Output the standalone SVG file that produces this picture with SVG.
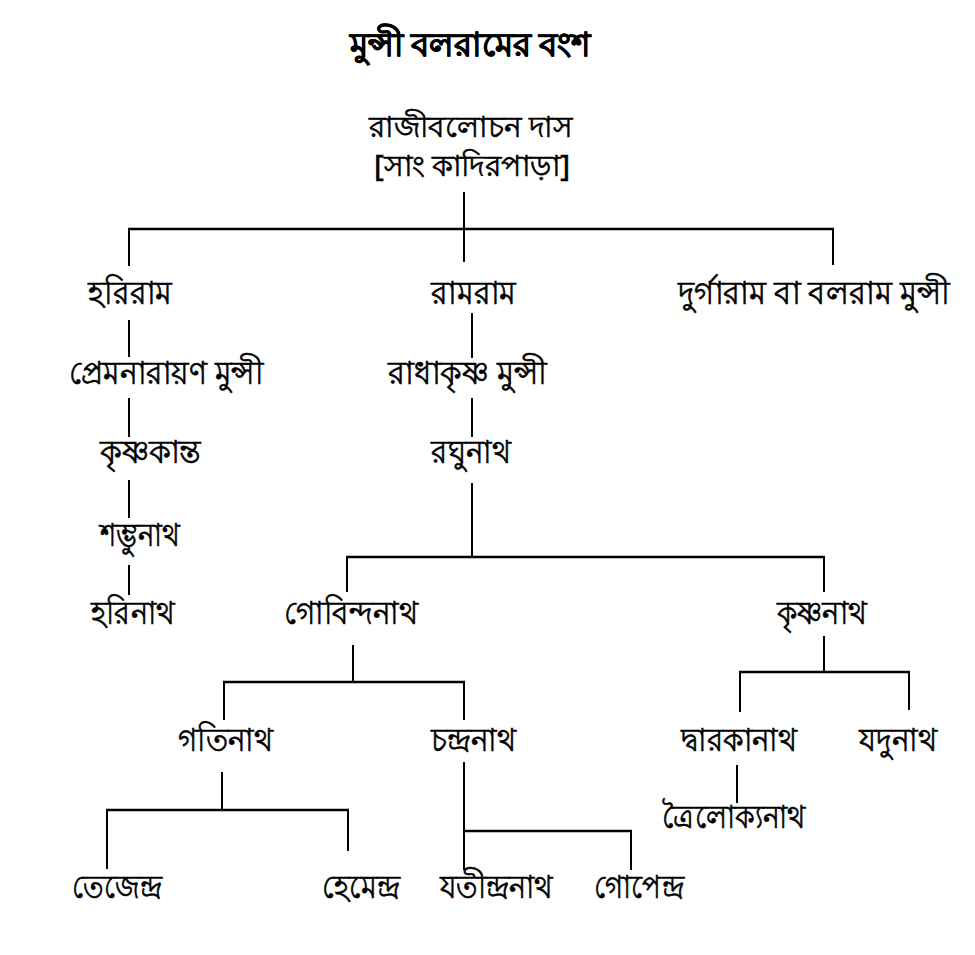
<svg xmlns="http://www.w3.org/2000/svg" width="975" height="955" viewBox="0 0 975 955">
<style>
text{font-family:"Noto Sans","DejaVu Sans",sans-serif;font-size:32px;fill:#000;stroke:#000;stroke-width:0.6px;}
.t{font-weight:bold;font-size:33px;stroke-width:0.4px;}
.r{font-size:29px;}
.c line{stroke:#000;stroke-width:2;}
.c line.h{stroke-width:2.6;}
</style>
<rect width="975" height="955" fill="#fff"/>
<text class="t" x="350" y="56" textLength="241" lengthAdjust="spacingAndGlyphs">মুন্সী বলরামের বংশ</text>
<g class="c">
<line x1="464" y1="192" x2="464" y2="262"/>
<line class="h" x1="128" y1="229" x2="834" y2="229"/>
<line x1="129" y1="228" x2="129" y2="266"/>
<line x1="833" y1="228" x2="833" y2="265"/>
<line x1="129" y1="320" x2="129" y2="357"/>
<line x1="129" y1="398" x2="129" y2="437"/>
<line x1="129" y1="480" x2="129" y2="518"/>
<line x1="129" y1="565" x2="129" y2="595"/>
<line x1="472" y1="313" x2="472" y2="358"/>
<line x1="472" y1="398" x2="472" y2="437"/>
<line x1="472" y1="483" x2="472" y2="557"/>
<line class="h" x1="346" y1="557" x2="825" y2="557"/>
<line x1="347" y1="556" x2="347" y2="592"/>
<line x1="824" y1="556" x2="824" y2="592"/>
<line x1="353" y1="645" x2="353" y2="682"/>
<line class="h" x1="223" y1="682" x2="465" y2="682"/>
<line x1="224" y1="681" x2="224" y2="720"/>
<line x1="464" y1="681" x2="464" y2="720"/>
<line x1="824" y1="636" x2="824" y2="672"/>
<line class="h" x1="739" y1="672" x2="910" y2="672"/>
<line x1="740" y1="671" x2="740" y2="712"/>
<line x1="909" y1="671" x2="909" y2="710"/>
<line x1="222" y1="772" x2="222" y2="810"/>
<line class="h" x1="106" y1="810" x2="349" y2="810"/>
<line x1="107" y1="809" x2="107" y2="869"/>
<line x1="348" y1="809" x2="348" y2="851"/>
<line x1="464" y1="762" x2="464" y2="870"/>
<line class="h" x1="464" y1="831" x2="632" y2="831"/>
<line x1="631" y1="830" x2="631" y2="870"/>
<line x1="737" y1="765" x2="737" y2="803"/>
</g>
<g id="n-rajib"><text class="r" x="369" y="137" textLength="203" lengthAdjust="spacingAndGlyphs">রাজীবলোচন দাস</text><text class="r" x="374" y="176" textLength="196" lengthAdjust="spacingAndGlyphs">[সাং কাদিরপাড়া]</text></g>
<g id="n-hariram"><text x="88" y="304" textLength="84" lengthAdjust="spacingAndGlyphs">হরিরাম</text></g>
<g id="n-ramram"><text x="431" y="304" textLength="85" lengthAdjust="spacingAndGlyphs">রামরাম</text></g>
<g id="n-durgaram"><text x="678" y="304" textLength="272" lengthAdjust="spacingAndGlyphs">দুর্গারাম বা বলরাম মুন্সী</text></g>
<g id="n-premnarayan"><text x="69" y="384" textLength="194" lengthAdjust="spacingAndGlyphs">প্রেমনারায়ণ মুন্সী</text></g>
<g id="n-radhakrishna"><text x="388" y="384" textLength="159" lengthAdjust="spacingAndGlyphs">রাধাকৃষ্ণ মুন্সী</text></g>
<g id="n-krishnakanta"><text x="100" y="463" textLength="101" lengthAdjust="spacingAndGlyphs">কৃষ্ণকান্ত</text></g>
<g id="n-raghunath"><text x="431" y="463" textLength="80" lengthAdjust="spacingAndGlyphs">রঘুনাথ</text></g>
<g id="n-shambhunath"><text x="100" y="546" textLength="80" lengthAdjust="spacingAndGlyphs">শম্ভুনাথ</text></g>
<g id="n-harinath"><text x="91" y="624" textLength="84" lengthAdjust="spacingAndGlyphs">হরিনাথ</text></g>
<g id="n-gobindanath"><text x="284" y="624" textLength="134" lengthAdjust="spacingAndGlyphs">গোবিন্দনাথ</text></g>
<g id="n-krishnanath"><text x="777" y="624" textLength="90" lengthAdjust="spacingAndGlyphs">কৃষ্ণনাথ</text></g>
<g id="n-gatinath"><text x="178" y="751" textLength="95" lengthAdjust="spacingAndGlyphs">গতিনাথ</text></g>
<g id="n-chandranath"><text x="431" y="751" textLength="85" lengthAdjust="spacingAndGlyphs">চন্দ্রনাথ</text></g>
<g id="n-dwarakanath"><text x="681" y="751" textLength="116" lengthAdjust="spacingAndGlyphs">দ্বারকানাথ</text></g>
<g id="n-yadunath"><text x="859" y="751" textLength="78" lengthAdjust="spacingAndGlyphs">যদুনাথ</text></g>
<g id="n-trailokyanath"><text x="662" y="828" textLength="144" lengthAdjust="spacingAndGlyphs">ত্রৈলোক্যনাথ</text></g>
<g id="n-tejendra"><text x="72" y="898" textLength="90" lengthAdjust="spacingAndGlyphs">তেজেন্দ্র</text></g>
<g id="n-hemendra"><text x="322" y="898" textLength="78" lengthAdjust="spacingAndGlyphs">হেমেন্দ্র</text></g>
<g id="n-yatindranath"><text x="440" y="898" textLength="113" lengthAdjust="spacingAndGlyphs">যতীন্দ্রনাথ</text></g>
<g id="n-gopendra"><text x="594" y="898" textLength="90" lengthAdjust="spacingAndGlyphs">গোপেন্দ্র</text></g>
</svg>
